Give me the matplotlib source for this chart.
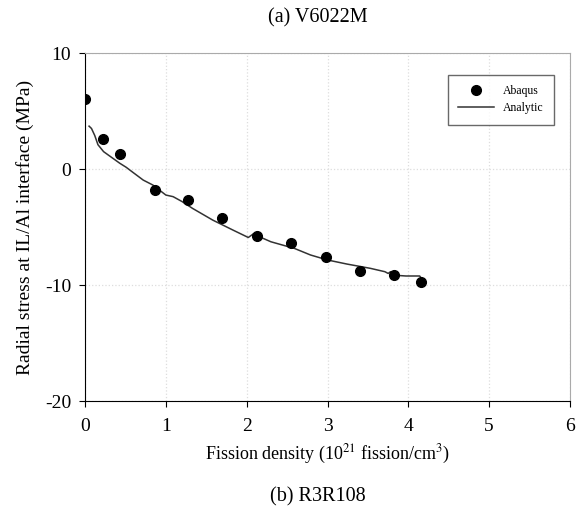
import matplotlib.pyplot as plt

plt.rcParams['font.family'] = ['Liberation Serif', 'DejaVu Serif']
plt.rcParams['mathtext.fontset'] = 'stix'
plt.rcParams['axes.unicode_minus'] = False

# Abaqus (FEM) points
abaqus_x = [0.0, 0.22, 0.43, 0.86, 1.28, 1.70, 2.13, 2.55, 2.98, 3.40, 3.82, 4.16]
abaqus_y = [6.0, 2.6, 1.3, -1.8, -2.7, -4.25, -5.8, -6.35, -7.55, -8.75, -9.15, -9.7]

# Analytic curve
analytic_x = [0.05, 0.08, 0.12, 0.16, 0.23, 0.33, 0.43, 0.51, 0.58, 0.72, 0.84, 1.00, 1.09,
              1.20, 1.33, 1.58, 1.83, 2.02, 2.08, 2.30, 2.59, 2.79, 3.00, 3.24, 3.53,
              3.71, 3.75, 3.78, 3.80, 3.97, 4.14, 4.18]
analytic_y = [3.7, 3.5, 2.9, 2.1, 1.5, 1.0, 0.5, 0.15, -0.22, -0.95, -1.38, -2.24, -2.38,
              -2.8, -3.39, -4.4, -5.26, -5.9, -5.6, -6.27, -6.84, -7.41, -7.84, -8.19, -8.56,
              -8.85, -9.0, -8.85, -9.14, -9.22, -9.22, -9.57]

fig = plt.figure(figsize=(5.76, 5.24), dpi=100)
ax = fig.add_axes([0.1476, 0.2347, 0.842, 0.664])

ax.plot(abaqus_x, abaqus_y, 'o', color='black', markersize=7, label='Abaqus', zorder=3)
ax.plot(analytic_x, analytic_y, '-', color='#333333', linewidth=1.1, label='Analytic')

ax.set_xlim(0, 6)
ax.set_ylim(-20, 10)
ax.set_xticks(range(0, 7))
ax.set_yticks([-20, -10, 0, 10])
ax.grid(True, color='#dddddd', linestyle=':', linewidth=0.9)
ax.tick_params(direction='out', labelsize=14, length=4)
ax.tick_params(axis='x', pad=8)
ax.tick_params(axis='y', pad=6)
for s in ['top', 'right']:
    ax.spines[s].set_color('#aaaaaa')

ax.set_xlabel('Fission density (10$^{21}$ fission/cm$^3$)', fontsize=13, labelpad=6)
ax.set_ylabel('Radial stress at IL/Al interface (MPa)', fontsize=14, labelpad=8)

leg = ax.legend(loc='upper right', fontsize=8.5, frameon=True, fancybox=False,
                edgecolor='#444444', borderpad=0.9, handlelength=3.0,
                labelspacing=0.4, bbox_to_anchor=(0.98, 0.955))
leg.get_frame().set_linewidth(1.0)

fig.text(0.552, 0.965, '(a) V6022M', ha='center', va='center', fontsize=14.5)
fig.text(0.552, 0.052, '(b) R3R108', ha='center', va='center', fontsize=14.5)

fig.savefig('out.png', dpi=100)
